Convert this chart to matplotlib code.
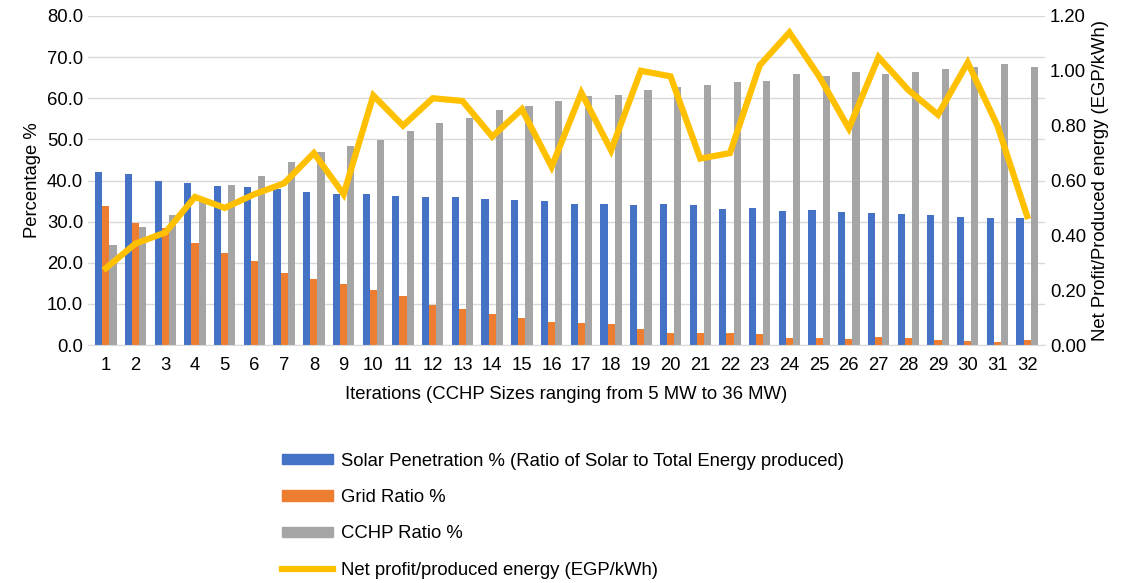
import matplotlib
matplotlib.use("Agg")
import matplotlib.pyplot as plt
import numpy as np
from matplotlib.lines import Line2D
from matplotlib.patches import Patch

iterations = list(range(1, 33))
solar = [42.0,41.6,39.9,39.4,38.7,38.4,38.0,37.3,36.7,36.7,36.2,36.1,36.0,35.5,35.3,35.1,34.3,34.3,34.1,34.3,34.0,33.1,33.3,32.7,32.8,32.4,32.0,31.9,31.7,31.2,30.8,31.0]
grid = [33.7,29.7,28.4,24.8,22.4,20.4,17.5,16.1,14.8,13.4,11.9,9.8,8.7,7.5,6.6,5.6,5.4,5.1,3.8,2.9,2.9,3.0,2.6,1.6,1.8,1.4,1.9,1.7,1.3,1.0,0.8,1.3]
cchp = [24.3,28.8,31.6,35.1,39.0,41.0,44.5,46.9,48.4,49.9,52.0,54.0,55.3,57.1,58.0,59.4,60.6,60.8,61.9,62.8,63.2,64.0,64.2,65.9,65.5,66.5,66.0,66.5,67.0,67.7,68.3,67.6]
profit = [0.28,0.37,0.41,0.54,0.50,0.55,0.59,0.70,0.55,0.91,0.80,0.90,0.89,0.76,0.86,0.65,0.92,0.71,1.00,0.98,0.68,0.70,1.02,1.14,0.98,0.79,1.05,0.93,0.84,1.03,0.80,0.47]

fs = 13.3
plt.rcParams['font.family'] = ['Liberation Sans', 'DejaVu Sans']
fig = plt.figure(figsize=(11.26, 5.83), dpi=100)
ax = fig.add_axes([88/1126, 1-345/583, (1045-88)/1126, (345-16)/583])
x = np.arange(len(iterations))
w = 0.24
cb, co, cg, cy = '#4472C4', '#ED7D31', '#A5A5A5', '#FFC000'
ax.bar(x - w, solar, w, color=cb)
ax.bar(x, grid, w, color=co)
ax.bar(x + w, cchp, w, color=cg)
ax.set_ylim(0, 80)
ax.set_yticks(np.arange(0, 81, 10))
ax.set_yticklabels([f"{v:.1f}" for v in range(0, 81, 10)])
ax.set_xlim(-0.6, len(x) - 0.4)
ax.set_xticks(x)
ax.set_xticklabels([str(i) for i in iterations])
ax.grid(axis='y', color='#D9D9D9', lw=1)
ax.set_axisbelow(True)
for s in ['top', 'right', 'left']:
    ax.spines[s].set_visible(False)
ax.spines['bottom'].set_color('#D9D9D9')
ax.tick_params(length=0, labelsize=fs)
ax.tick_params(axis='x', pad=9)
ax.set_ylabel('Percentage %', fontsize=fs)
ax.set_xlabel('Iterations (CCHP Sizes ranging from 5 MW to 36 MW)', fontsize=fs, labelpad=8)

ax2 = ax.twinx()
ax2.plot(x, profit, color=cy, lw=4.5, solid_joinstyle='miter')
ax2.set_ylim(0, 1.2)
ax2.set_yticks(np.arange(0, 1.21, 0.2))
ax2.set_yticklabels([f"{v:.2f}" for v in np.arange(0, 1.21, 0.2)])
for s in ax2.spines.values():
    s.set_visible(False)
ax2.tick_params(length=0, labelsize=fs)
ax2.set_ylabel('Net Profit/Produced energy (EGP/kWh)', fontsize=fs)

handles = [Patch(color=cb), Patch(color=co), Patch(color=cg), Line2D([], [], color=cy, lw=4.5)]
labels = ['Solar Penetration % (Ratio of Solar to Total Energy produced)', 'Grid Ratio %', 'CCHP Ratio %', 'Net profit/produced energy (EGP/kWh)']
fig.legend(handles, labels, loc='upper left', bbox_to_anchor=(265/1126, 1-436/583), frameon=False,
           fontsize=fs, labelspacing=1.05, handlelength=2.8, handleheight=0.5, handletextpad=0.4)
fig.savefig('out.png', dpi=100)
